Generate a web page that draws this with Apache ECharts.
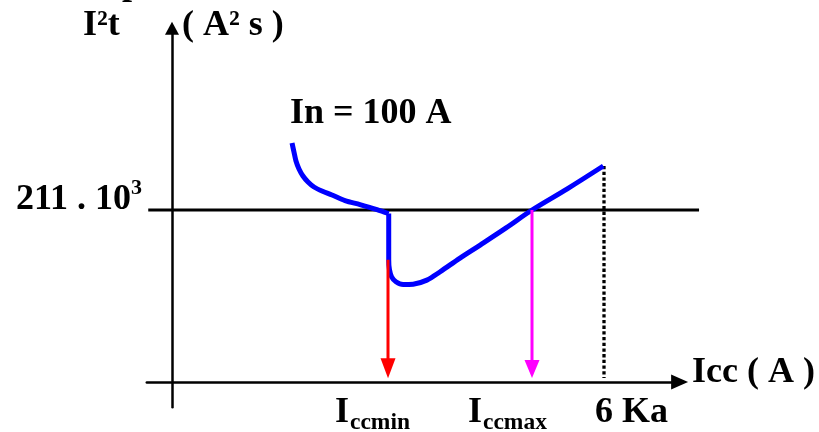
<!DOCTYPE html>
<html>
<head>
<meta charset="utf-8">
<script src="https://cdn.jsdelivr.net/npm/echarts@6/dist/echarts.min.js"></script>
<style>
html,body{margin:0;padding:0;background:#fff;}
#chart{width:819px;height:432px;}
</style>
</head>
<body>
<div id="chart"></div>
<script>
// Icc in kA (x), I²t in 10³ A²s (y)
const upperX = [1.667, 1.694, 1.722, 1.764, 1.819, 1.889, 1.972, 2.083, 2.222, 2.403, 2.611, 2.847, 3.01];
const upperY = [293.2, 282.1, 271.1, 261.3, 252.7, 245.3, 239.2, 234.3, 229.4, 222.6, 217.7, 211.6, 206.7];
const lowerX = [3.01, 3.01, 3.02, 3.05, 3.11, 3.21, 3.35, 3.54, 3.72, 4.0, 4.28, 4.64, 5.0, 5.49, 5.99];
const lowerY = [206.7, 150, 138, 129, 123, 119.5, 120, 125, 135, 152, 168, 189, 211, 237, 265];
const levelY = 211;            // 211 . 10³ A²s
const levelX = [-0.33, 7.32];
const iccMin = 3;              // Iccmin
const iccMinTop = 150;
const iccMax = 5;              // Iccmax
const iccMaxTop = 211;
const i6ka = 6;                // 6 Ka
const i6kaTop = 265;
const arrowEndY = [17, 16, 5];
const yTitle = 'I²t';
const yUnit = '( A² s )';
const xTitle = 'Icc ( A )';
const curveName = 'In = 100 A';
const levelLabel = ['211 . 10', '3'];
const xLabels = [['I', 'ccmin'], ['I', 'ccmax'], ['6 Ka', '']];

const FONT = '"Liberation Serif", "Times New Roman", serif';
function txt(text, x, y, size, align) {
  return {
    type: 'text', x: x, y: y, silent: true,
    style: {
      text: text, font: 'bold ' + size + 'px ' + FONT, fill: '#000',
      align: align || 'left', verticalAlign: 'middle',
      textAlign: align || 'left', textVerticalAlign: 'middle'
    }
  };
}

const chart = echarts.init(document.getElementById('chart'), null, {renderer: 'canvas'});
const hidden = {axisLabel: {show: false}, axisTick: {show: false}, splitLine: {show: false}, axisLine: {show: false}};
const shownLine = {show: true, onZero: true, symbol: ['none', 'triangle'], lineStyle: {color: '#000', width: 2.5}};
const X0 = -0.35, Y0 = -31, Y1 = 434;
const option = {
  animation: false,
  backgroundColor: '#fff',
  grid: [
    {left: 146.8, width: 554.4, top: 28.2, height: 379.1},   // data grid (x up to 7.35)
    {left: 146.8, width: 532.8, top: 28.2, height: 379.1}    // axes grid (x up to 7.05)
  ],
  xAxis: [
    Object.assign({type: 'value', gridIndex: 0, min: X0, max: 7.35}, hidden),
    Object.assign({type: 'value', gridIndex: 1, min: X0, max: 7.05}, hidden,
      {axisLine: Object.assign({}, shownLine, {symbolSize: [15, 17]})})
  ],
  yAxis: [
    Object.assign({type: 'value', gridIndex: 0, min: Y0, max: Y1}, hidden),
    Object.assign({type: 'value', gridIndex: 1, min: Y0, max: Y1}, hidden,
      {axisLine: Object.assign({}, shownLine, {symbolSize: [14, 13]})})
  ],
  series: [
    {
      type: 'line', symbol: 'none', xAxisIndex: 0, yAxisIndex: 0,
      data: levelX.map(x => [x, levelY]),
      lineStyle: {color: '#000', width: 3}
    },
    {
      type: 'line', symbol: 'none', xAxisIndex: 0, yAxisIndex: 0,
      data: [[i6ka, i6kaTop], [i6ka, arrowEndY[2]]],
      lineStyle: {color: '#000', width: 3.3, type: [3.3, 2.4], cap: 'butt'}
    },
    {
      type: 'line', symbol: 'none', smooth: 0.3, xAxisIndex: 0, yAxisIndex: 0,
      data: upperX.map((x, i) => [x, upperY[i]]),
      lineStyle: {color: '#0000ff', width: 5, join: 'round'}
    },
    {
      type: 'line', symbol: 'none', smooth: 0.35, xAxisIndex: 0, yAxisIndex: 0,
      data: lowerX.map((x, i) => [x, lowerY[i]]),
      lineStyle: {color: '#0000ff', width: 5, join: 'round'}
    },
    {
      type: 'line', xAxisIndex: 0, yAxisIndex: 0,
      data: [{value: [iccMin, iccMinTop], symbol: 'none'},
             {value: [iccMin, arrowEndY[0]], symbol: 'triangle', symbolRotate: 180, symbolSize: [15, 20]}],
      lineStyle: {color: '#ff0000', width: 3}, itemStyle: {color: '#ff0000'}
    },
    {
      type: 'line', xAxisIndex: 0, yAxisIndex: 0,
      data: [{value: [iccMax, iccMaxTop], symbol: 'none'},
             {value: [iccMax, arrowEndY[1]], symbol: 'triangle', symbolRotate: 180, symbolSize: [15, 18]}],
      lineStyle: {color: '#ff00ff', width: 3}, itemStyle: {color: '#ff00ff'}
    }
  ],
  graphic: [
    txt('p', 122, -15.2, 36),
    txt(yTitle, 83, 25.5, 36),
    txt(yUnit, 182, 25.5, 36),
    txt(curveName, 290, 113.8, 36),
    txt(levelLabel[0], 131, 199.8, 36, 'right'),
    txt(levelLabel[1], 131, 188.6, 22),
    txt(xTitle, 692, 372.8, 36),
    txt(xLabels[0][0], 335, 412.8, 36),
    txt(xLabels[0][1], 350, 423.1, 23.5),
    txt(xLabels[1][0], 468, 412.8, 36),
    txt(xLabels[1][1], 483, 423.1, 23.5),
    txt(xLabels[2][0], 595, 412.8, 36)
  ]
};
chart.setOption(option);
</script>
</body>
</html>
